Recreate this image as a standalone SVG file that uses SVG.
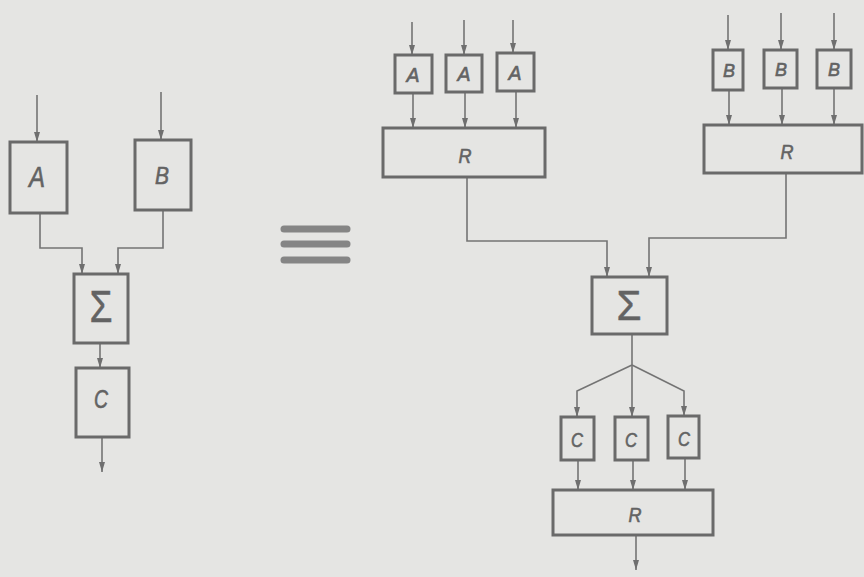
<svg xmlns="http://www.w3.org/2000/svg" width="864" height="577" viewBox="0 0 864 577">
<defs>
<marker id="ah" viewBox="0 0 10 6" refX="10" refY="3" markerWidth="10" markerHeight="6" markerUnits="userSpaceOnUse" orient="auto">
<path d="M0,0 L10,3 L0,6 Z" fill="#6f6f6f"/>
</marker>
<style>
.bx{fill:none;stroke:#6a6a6a;stroke-width:3}
.ln{fill:none;stroke:#747474;stroke-width:1.6}
.ar{fill:none;stroke:#747474;stroke-width:1.6;marker-end:url(#ah)}
.t{font-family:"Liberation Sans",Arial,sans-serif;font-style:italic;fill:#636363;stroke:#636363;stroke-width:0.6;text-anchor:middle}
.s{font-family:"Liberation Sans",Arial,sans-serif;fill:#636363;stroke:#636363;stroke-width:0.5;text-anchor:middle}
.eq{stroke:#858585;stroke-width:7;stroke-linecap:round}
</style>
</defs>
<rect width="864" height="577" fill="#e5e5e3"/>
<g id="connectors">
<path class="ar" d="M37,95 V142"/>
<path class="ar" d="M161,92 V140"/>
<path class="ar" d="M40,213 V248 H82 V274"/>
<path class="ar" d="M163,210 V248 H118 V274"/>
<path class="ar" d="M100,343 V368"/>
<path class="ar" d="M102,437 V472"/>
<path class="ar" d="M412,22 V55"/>
<path class="ar" d="M464,20 V55"/>
<path class="ar" d="M513,20 V53"/>
<path class="ar" d="M413,93 V128"/>
<path class="ar" d="M465,92 V128"/>
<path class="ar" d="M516,91 V128"/>
<path class="ar" d="M728,15 V50"/>
<path class="ar" d="M781,13 V50"/>
<path class="ar" d="M834,13 V50"/>
<path class="ar" d="M729,90 V125"/>
<path class="ar" d="M782,88 V125"/>
<path class="ar" d="M834,88 V125"/>
<path class="ar" d="M467,177 V241 H607 V277"/>
<path class="ar" d="M786,173 V238 H649 V277"/>
<path class="ln" d="M632,334 V365"/>
<path class="ar" d="M632,365 L577,391 V417"/>
<path class="ar" d="M632,365 V417"/>
<path class="ar" d="M632,365 L684,391 V416"/>
<path class="ar" d="M578,460 V490"/>
<path class="ar" d="M633,460 V490"/>
<path class="ar" d="M685,458 V490"/>
<path class="ar" d="M636,535 V570"/>
</g>
<g id="equiv">
<line class="eq" x1="284" y1="229" x2="347" y2="229"/>
<line class="eq" x1="284" y1="244" x2="347" y2="244"/>
<line class="eq" x1="284" y1="260" x2="347" y2="260"/>
</g>
<g id="nodeA"><rect class="bx" x="10" y="142" width="57" height="71"/><text class="t" x="37" y="187" font-size="29" textLength="16" lengthAdjust="spacingAndGlyphs">A</text></g>
<g id="nodeB"><rect class="bx" x="135" y="140" width="56" height="70"/><text class="t" x="162" y="184" font-size="24" textLength="14" lengthAdjust="spacingAndGlyphs">B</text></g>
<g id="nodeSumL"><rect class="bx" x="74" y="274" width="54" height="69"/><text class="s" x="101" y="322" font-size="44" textLength="23" lengthAdjust="spacingAndGlyphs">Σ</text></g>
<g id="nodeCL"><rect class="bx" x="76" y="368" width="53" height="69"/><text class="t" x="101" y="408" font-size="25" textLength="14" lengthAdjust="spacingAndGlyphs">C</text></g>
<g id="nodeA1"><rect class="bx" x="395" y="55" width="37" height="38"/><text class="t" x="413" y="82" font-size="20" textLength="13" lengthAdjust="spacingAndGlyphs">A</text></g>
<g id="nodeA2"><rect class="bx" x="446" y="55" width="36" height="37"/><text class="t" x="464" y="81" font-size="20" textLength="13" lengthAdjust="spacingAndGlyphs">A</text></g>
<g id="nodeA3"><rect class="bx" x="497" y="53" width="37" height="38"/><text class="t" x="515" y="80" font-size="20" textLength="13" lengthAdjust="spacingAndGlyphs">A</text></g>
<g id="nodeR1"><rect class="bx" x="383" y="128" width="162" height="49"/><text class="t" x="465" y="163" font-size="20" textLength="13" lengthAdjust="spacingAndGlyphs">R</text></g>
<g id="nodeB1"><rect class="bx" x="713" y="50" width="30" height="40"/><text class="t" x="729" y="77" font-size="19" textLength="12" lengthAdjust="spacingAndGlyphs">B</text></g>
<g id="nodeB2"><rect class="bx" x="764" y="50" width="33" height="38"/><text class="t" x="781" y="76" font-size="19" textLength="12" lengthAdjust="spacingAndGlyphs">B</text></g>
<g id="nodeB3"><rect class="bx" x="817" y="50" width="34" height="38"/><text class="t" x="834" y="76" font-size="19" textLength="12" lengthAdjust="spacingAndGlyphs">B</text></g>
<g id="nodeR2"><rect class="bx" x="704" y="125" width="158" height="48"/><text class="t" x="787" y="159" font-size="20" textLength="13" lengthAdjust="spacingAndGlyphs">R</text></g>
<g id="nodeSumR"><rect class="bx" x="592" y="277" width="75" height="57"/><text class="s" x="629" y="320" font-size="42" textLength="25" lengthAdjust="spacingAndGlyphs">Σ</text></g>
<g id="nodeC1"><rect class="bx" x="561" y="417" width="33" height="43"/><text class="t" x="577" y="447" font-size="21" textLength="12" lengthAdjust="spacingAndGlyphs">C</text></g>
<g id="nodeC2"><rect class="bx" x="615" y="417" width="33" height="43"/><text class="t" x="631" y="447" font-size="21" textLength="12" lengthAdjust="spacingAndGlyphs">C</text></g>
<g id="nodeC3"><rect class="bx" x="668" y="416" width="31" height="42"/><text class="t" x="684" y="446" font-size="21" textLength="12" lengthAdjust="spacingAndGlyphs">C</text></g>
<g id="nodeR3"><rect class="bx" x="553" y="490" width="160" height="45"/><text class="t" x="635" y="522" font-size="20" textLength="13" lengthAdjust="spacingAndGlyphs">R</text></g>
</svg>
